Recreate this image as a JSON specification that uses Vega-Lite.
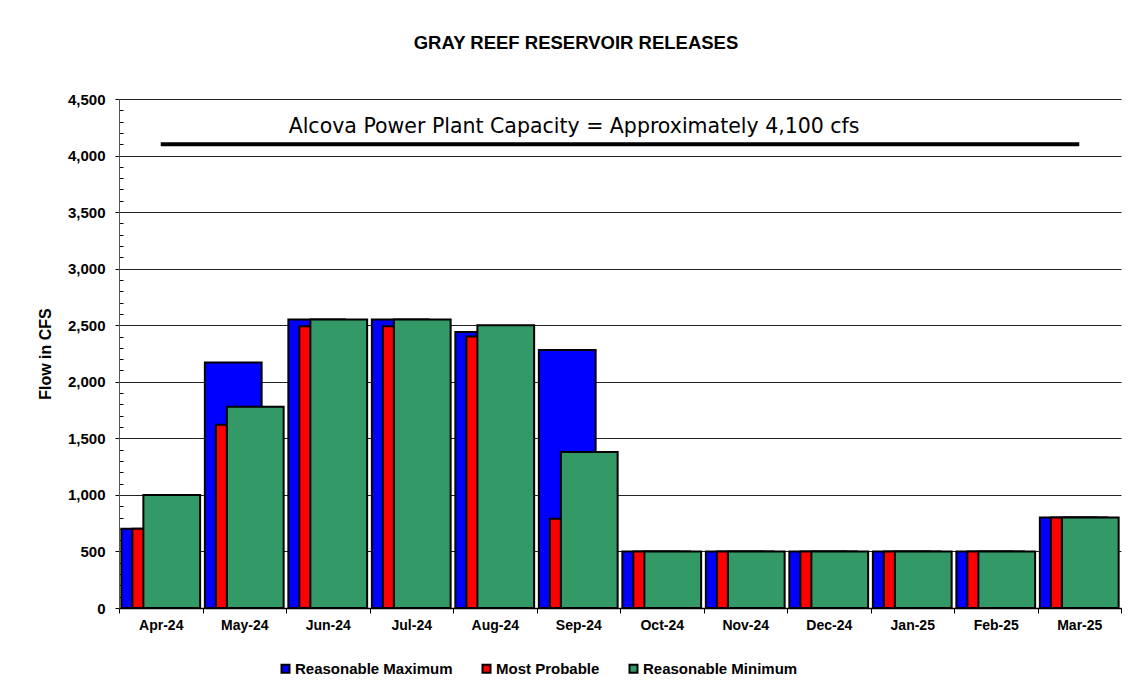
{
  "$schema": "https://vega.github.io/schema/vega-lite/v6.json",
  "autosize": "none",
  "width": 1002,
  "height": 509,
  "padding": {"left": 119, "top": 99, "right": 14, "bottom": 86},
  "background": "white",
  "title": {"text": "GRAY REEF RESERVOIR RELEASES", "font": "Liberation Sans", "fontSize": 18.5, "fontWeight": "bold", "color": "black", "anchor": "middle", "dx": -44, "offset": 40},
  "config": {
    "font": "Liberation Sans",
    "view": {"stroke": null}
  },
  "datasets": {
    "flows": [
      {"month": "Apr-24", "series": "Reasonable Maximum", "cfs": 700},
      {"month": "Apr-24", "series": "Most Probable", "cfs": 700},
      {"month": "Apr-24", "series": "Reasonable Minimum", "cfs": 1000},
      {"month": "May-24", "series": "Reasonable Maximum", "cfs": 2170},
      {"month": "May-24", "series": "Most Probable", "cfs": 1620},
      {"month": "May-24", "series": "Reasonable Minimum", "cfs": 1780},
      {"month": "Jun-24", "series": "Reasonable Maximum", "cfs": 2550},
      {"month": "Jun-24", "series": "Most Probable", "cfs": 2490},
      {"month": "Jun-24", "series": "Reasonable Minimum", "cfs": 2550},
      {"month": "Jul-24", "series": "Reasonable Maximum", "cfs": 2550},
      {"month": "Jul-24", "series": "Most Probable", "cfs": 2490},
      {"month": "Jul-24", "series": "Reasonable Minimum", "cfs": 2550},
      {"month": "Aug-24", "series": "Reasonable Maximum", "cfs": 2440},
      {"month": "Aug-24", "series": "Most Probable", "cfs": 2400},
      {"month": "Aug-24", "series": "Reasonable Minimum", "cfs": 2500},
      {"month": "Sep-24", "series": "Reasonable Maximum", "cfs": 2280},
      {"month": "Sep-24", "series": "Most Probable", "cfs": 790},
      {"month": "Sep-24", "series": "Reasonable Minimum", "cfs": 1380},
      {"month": "Oct-24", "series": "Reasonable Maximum", "cfs": 500},
      {"month": "Oct-24", "series": "Most Probable", "cfs": 500},
      {"month": "Oct-24", "series": "Reasonable Minimum", "cfs": 500},
      {"month": "Nov-24", "series": "Reasonable Maximum", "cfs": 500},
      {"month": "Nov-24", "series": "Most Probable", "cfs": 500},
      {"month": "Nov-24", "series": "Reasonable Minimum", "cfs": 500},
      {"month": "Dec-24", "series": "Reasonable Maximum", "cfs": 500},
      {"month": "Dec-24", "series": "Most Probable", "cfs": 500},
      {"month": "Dec-24", "series": "Reasonable Minimum", "cfs": 500},
      {"month": "Jan-25", "series": "Reasonable Maximum", "cfs": 500},
      {"month": "Jan-25", "series": "Most Probable", "cfs": 500},
      {"month": "Jan-25", "series": "Reasonable Minimum", "cfs": 500},
      {"month": "Feb-25", "series": "Reasonable Maximum", "cfs": 500},
      {"month": "Feb-25", "series": "Most Probable", "cfs": 500},
      {"month": "Feb-25", "series": "Reasonable Minimum", "cfs": 500},
      {"month": "Mar-25", "series": "Reasonable Maximum", "cfs": 800},
      {"month": "Mar-25", "series": "Most Probable", "cfs": 800},
      {"month": "Mar-25", "series": "Reasonable Minimum", "cfs": 800}
    ],
    "capacity": [
      {"start": "Apr-24", "end": "Mar-25", "labelMonth": "Sep-24", "cfs": 4100, "label": "Alcova Power Plant Capacity = Approximately 4,100 cfs"}
    ]
  },
  "encoding": {
    "x": {
      "field": "month", "type": "ordinal",
      "scale": {"domain": ["Apr-24","May-24","Jun-24","Jul-24","Aug-24","Sep-24","Oct-24","Nov-24","Dec-24","Jan-25","Feb-25","Mar-25"], "paddingInner": 0, "paddingOuter": 0},
      "axis": {"title": null, "labelAngle": 0, "labelFontSize": 14, "labelFontWeight": "bold", "labelColor": "black", "labelPadding": 5, "tickBand": "extent", "tickSize": 5, "tickColor": "black", "tickWidth": 1, "domainColor": "black", "domainWidth": 1.5, "grid": false}
    },
    "y": {
      "field": "cfs", "type": "quantitative",
      "scale": {"domain": [0, 4500], "nice": false},
      "axis": {
        "title": "Flow in CFS", "titleFontSize": 16, "titleFontWeight": "bold", "titleColor": "black", "titlePadding": 14,
        "values": [0,100,200,300,400,500,600,700,800,900,1000,1100,1200,1300,1400,1500,1600,1700,1800,1900,2000,2100,2200,2300,2400,2500,2600,2700,2800,2900,3000,3100,3200,3300,3400,3500,3600,3700,3800,3900,4000,4100,4200,4300,4400,4500],
        "format": ",.0f",
        "labelExpr": "datum.value % 500 === 0 ? datum.label : ''",
        "labelOverlap": false,
        "labelFontSize": 15, "labelFontWeight": "bold", "labelColor": "black", "labelPadding": 10,
        "tickSize": {"condition": {"test": "datum.value % 500 !== 0", "value": -4}, "value": 4},
        "tickColor": "black", "tickWidth": 1,
        "domainColor": "#555", "domainWidth": 1,
        "grid": true, "gridColor": "#222", "gridWidth": 1.2,
        "gridOpacity": {"condition": {"test": "datum.value % 500 === 0", "value": 1}, "value": 0}
      }
    },
    "color": {
      "field": "series", "type": "nominal",
      "scale": {"domain": ["Reasonable Maximum", "Most Probable", "Reasonable Minimum"], "range": ["#0000FF", "#FF0000", "#339966"]},
      "legend": {"title": null, "orient": "none", "legendX": 159, "legendY": 562, "direction": "horizontal", "labelFontSize": 15, "labelFontWeight": "bold", "labelColor": "black", "symbolType": "square", "symbolSize": 64, "symbolStrokeColor": "black", "symbolStrokeWidth": 2, "columnPadding": 25, "labelOffset": 2, "padding": 0}
    }
  },
  "layer": [
    {
      "data": {"name": "flows"},
      "transform": [{"filter": "datum.series === 'Reasonable Maximum'"}],
      "mark": {"type": "bar", "width": {"band": 0.68}, "xOffset": -11, "stroke": "black", "strokeWidth": 2}
    },
    {
      "data": {"name": "flows"},
      "transform": [{"filter": "datum.series === 'Most Probable'"}],
      "mark": {"type": "bar", "width": {"band": 0.68}, "xOffset": 0, "stroke": "black", "strokeWidth": 2}
    },
    {
      "data": {"name": "flows"},
      "transform": [{"filter": "datum.series === 'Reasonable Minimum'"}],
      "mark": {"type": "bar", "width": {"band": 0.68}, "xOffset": 11, "stroke": "black", "strokeWidth": 2}
    },
    {
      "data": {"name": "capacity"},
      "mark": {"type": "rule", "color": "black", "strokeWidth": 4},
      "encoding": {
        "x": {"field": "start", "type": "ordinal", "bandPosition": 0.5},
        "x2": {"field": "end", "bandPosition": 0.5},
        "y": {"field": "cfs", "type": "quantitative"},
        "color": {"value": "black"}
      }
    },
    {
      "data": {"name": "capacity"},
      "mark": {"type": "text", "font": "DejaVu Sans", "fontSize": 20.5, "color": "black", "baseline": "alphabetic", "align": "center", "dy": -11},
      "encoding": {
        "x": {"field": "labelMonth", "type": "ordinal", "bandPosition": 0.45},
        "y": {"field": "cfs", "type": "quantitative"},
        "text": {"field": "label"},
        "color": {"value": "black"}
      }
    }
  ]
}
